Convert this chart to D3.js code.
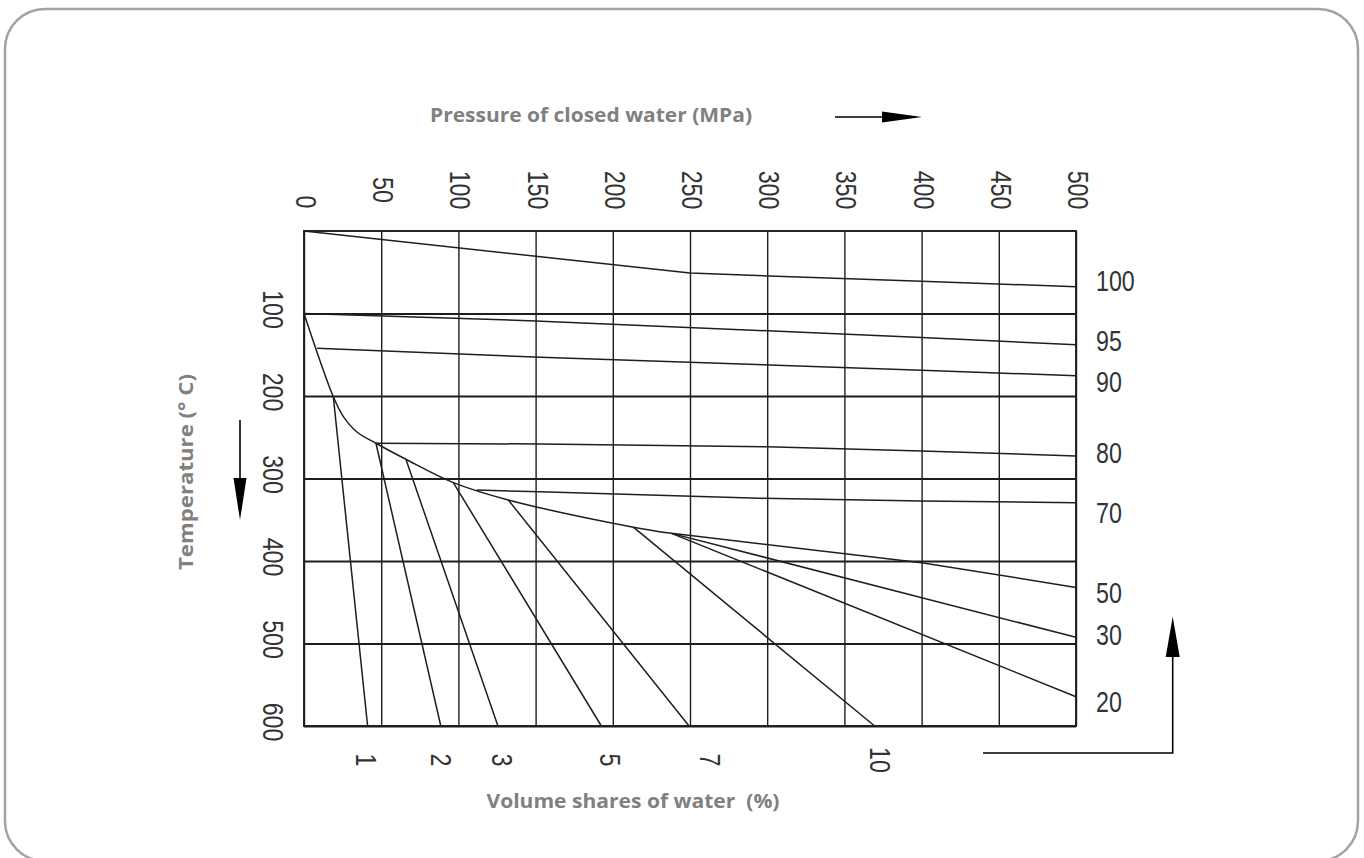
<!DOCTYPE html>
<html>
<head>
<meta charset="utf-8">
<script src="https://cdn.jsdelivr.net/npm/d3@7/dist/d3.min.js"></script>
<style>
  html, body { margin: 0; padding: 0; background: #ffffff; }
  svg { display: block; }
</style>
</head>
<body>
<svg id="chart" width="1364" height="858"></svg>
<script>
// ---------------- DATA ----------------
const pressureTicks = [0, 50, 100, 150, 200, 250, 300, 350, 400, 450, 500];   // MPa
const temperatureTicks = [100, 200, 300, 400, 500, 600];                        // °C

// Lines of constant "ratio" (labelled on the right) : [pressure MPa, temperature °C]
const ratioNames = ["100", "95", "90", "80", "70", "50", "30", "20"];
const ratio100 = [[0, 0], [250, 51], [400, 61], [500, 67.5]];
const ratio95  = [[0, 100], [150, 109], [400, 129], [500, 138]];
const ratio90  = [[8.5, 142], [153, 153], [400, 168.8], [500, 175.4]];
const ratio80  = [[46.6, 257.3], [153, 258.2], [300, 261.5], [400, 266.7], [500, 272.7]];
const ratio70  = [[111.8, 313.9], [153, 316.2], [295, 324], [400, 327.3], [500, 329.3]];
const ratio50  = [[238, 366.5], [400, 402], [500, 432]];
const ratio30  = [[238, 366.5], [500, 492.5]];
const ratio20  = [[238, 366.5], [500, 564.5]];

// Boundary (saturation) curve
const boundary = [[0, 100], [19, 201], [25.5, 225], [34.1, 243.3], [46.6, 257.3],
                  [66, 276.7], [96.7, 305], [132.3, 326], [213.3, 359], [238, 366.5]];

// Lines of constant volume share of water (labelled at the bottom)
const volumeNames = ["1", "2", "3", "5", "7", "10"];
const volume1  = [[19, 201], [41.2, 600]];
const volume2  = [[46.6, 257.3], [88.6, 600]];
const volume3  = [[66, 276.7], [125.6, 600]];
const volume5  = [[96.7, 305], [192.6, 600]];
const volume7  = [[132.3, 326], [249.4, 600]];
const volume10 = [[213.3, 359], [369.6, 600]];

// ---------------- LAYOUT ----------------
const svg = d3.select("#chart");
const plotL = 304, plotR = 1076, plotT = 231, plotB = 726;

const x = d3.scaleLinear().domain([0, 500]).range([plotL, plotR]);
const y = d3.scaleLinear().domain([0, 600]).range([plotT, plotB]);

const ink = "#1e1e1e";
const labelFont = "'Liberation Sans', Arial, sans-serif";
const titleFont = "'Open Sans', 'Noto Sans', sans-serif";

// outer rounded frame
svg.append("rect")
  .attr("x", 5).attr("y", 9).attr("width", 1353).attr("height", 852)
  .attr("rx", 40).attr("ry", 40)
  .attr("fill", "#ffffff").attr("stroke", "#a3a3a3").attr("stroke-width", 2.5);

// ---- grid via axes ----
const gridV = svg.append("g")
  .attr("transform", `translate(0,${plotT})`)
  .call(d3.axisTop(x).tickValues(pressureTicks).tickSizeInner(-(plotB - plotT)).tickSizeOuter(0).tickFormat(""));
gridV.select(".domain").remove();
gridV.selectAll(".tick line").attr("stroke", ink).attr("stroke-width", 1.4);

const gridH = svg.append("g")
  .attr("transform", `translate(${plotL},0)`)
  .call(d3.axisLeft(y).tickValues(temperatureTicks).tickSizeInner(-(plotR - plotL)).tickSizeOuter(0).tickFormat(""));
gridH.select(".domain").remove();
gridH.selectAll(".tick line").attr("stroke", ink).attr("stroke-width", 1.9);

// plot frame
svg.append("rect")
  .attr("x", x(0)).attr("y", y(0))
  .attr("width", x(500) - x(0)).attr("height", y(600) - y(0))
  .attr("fill", "none").attr("stroke", ink).attr("stroke-width", 1.9);

// ---- curves ----
const line = d3.line().x(d => x(d[0])).y(d => y(d[1])).curve(d3.curveLinear);
const smooth = d3.line().x(d => x(d[0])).y(d => y(d[1])).curve(d3.curveCatmullRom.alpha(0.5));
const straightLines = [ratio100, ratio95, ratio90, ratio80, ratio70, ratio50, ratio30, ratio20,
                       volume1, volume2, volume3, volume5, volume7, volume10];
const curveG = svg.append("g").attr("fill", "none").attr("stroke", ink)
  .attr("stroke-width", 1.5).attr("stroke-linejoin", "round");
curveG.selectAll("path.s").data(straightLines).join("path").attr("class", "s").attr("d", line);
curveG.append("path").datum(boundary).attr("d", smooth);

// ---- CAD-like labels ----
function cadLabel(g, txt, cx, cy, rot) {
  g.append("text")
    .attr("transform", `translate(${cx},${cy}) rotate(${rot}) scale(0.8,1)`)
    .attr("text-anchor", rot ? "middle" : "start")
    .attr("dominant-baseline", "central")
    .attr("font-family", labelFont)
    .attr("font-size", 29)
    .attr("fill", "#333")
    .text(txt);
}

// top pressure tick labels (rotated)
const topG = svg.append("g");
pressureTicks.forEach(p => {
  cadLabel(topG, String(p), x(p) + 2, p === 0 ? 202 : 190, 90);
});

// left temperature tick labels (rotated)
const leftG = svg.append("g");
temperatureTicks.forEach(t => {
  cadLabel(leftG, String(t), 272.5, y(t) - 4, 90);
});

// right ratio labels
const ratioLines = [ratio100, ratio95, ratio90, ratio80, ratio70, ratio50, ratio30, ratio20];
const ratioNudge = [-5.7, -4, 6.3, -3, 10.3, 5.7, -2.3, 5.3];
const rightG = svg.append("g");
ratioLines.forEach((ln, i) => {
  const end = ln[ln.length - 1];
  rightG.append("text")
    .attr("transform", `translate(${x(500) + 20},${y(end[1]) + ratioNudge[i]}) scale(0.8,1)`)
    .attr("text-anchor", "start")
    .attr("dominant-baseline", "central")
    .attr("font-family", labelFont)
    .attr("font-size", 29)
    .attr("fill", "#333")
    .text(ratioNames[i]);
});

// bottom volume labels (rotated)
const volumeLines = [volume1, volume2, volume3, volume5, volume7, volume10];
const volumeNudge = [-1.6, 0, 4, 9, 21, 5];
const botG = svg.append("g");
volumeLines.forEach((ln, i) => {
  const end = ln[ln.length - 1];
  cadLabel(botG, volumeNames[i], x(end[0]) + volumeNudge[i], 760, 90);
});

// ---- titles ----
function title(txt, cx, cy, rot, len) {
  svg.append("text")
    .attr("transform", `translate(${cx},${cy}) rotate(${rot})`)
    .attr("text-anchor", "middle")
    .attr("dominant-baseline", "central")
    .attr("font-family", titleFont)
    .attr("font-weight", 700)
    .attr("font-size", 20)
    .attr("fill", "#808080")
    .attr("textLength", len)
    .attr("lengthAdjust", "spacingAndGlyphs")
    .style("white-space", "pre")
    .text(txt);
}
title("Pressure of closed water (MPa)", 591, 114, 0, 322);
title("Volume shares of water  (%)", 633, 800, 0, 293);
title("Temperature (° C)", 185, 472, -90, 196);

// ---- arrows ----
const arrows = svg.append("g").attr("fill", "#000").attr("stroke", "#000");
// top: pointing right
arrows.append("line").attr("x1", 835).attr("y1", 117).attr("x2", 884).attr("y2", 117).attr("stroke-width", 1.6);
arrows.append("path").attr("d", "M882,111.5 L922,117 L882,122.5 Z").attr("stroke", "none");
// left: pointing down
arrows.append("line").attr("x1", 240).attr("y1", 420).attr("x2", 240).attr("y2", 480).attr("stroke-width", 1.6);
arrows.append("path").attr("d", "M233.5,478 L240,520 L246.5,478 Z").attr("stroke", "none");
// bottom-right: elbow pointing up
arrows.append("path").attr("d", "M983,753 L1172.7,753 L1172.7,655").attr("fill", "none").attr("stroke-width", 1.6);
arrows.append("path").attr("d", "M1165.7,657 L1172.7,616.7 L1179.7,657 Z").attr("stroke", "none");
</script>
</body>
</html>
